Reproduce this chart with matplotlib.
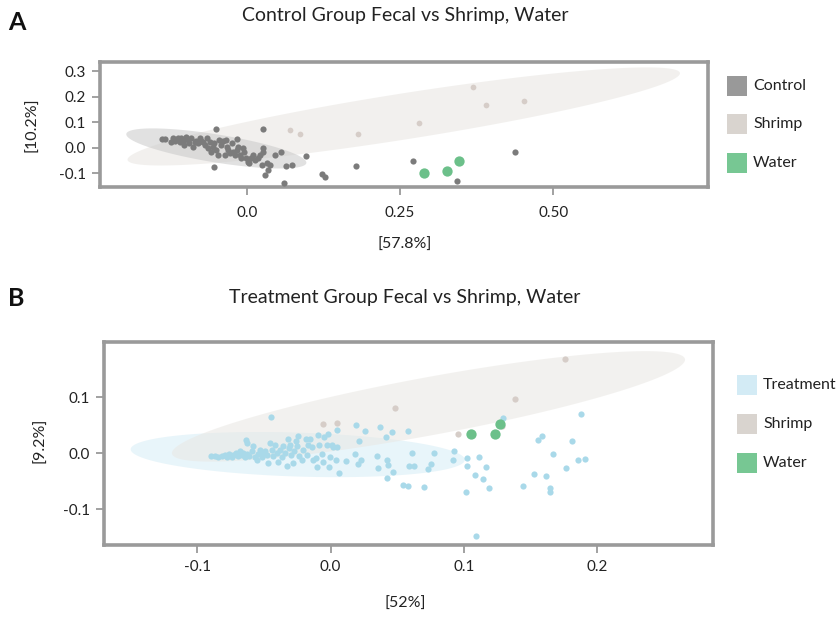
import numpy as np
import matplotlib
matplotlib.use("Agg")
import matplotlib.pyplot as plt
from matplotlib.patches import Polygon, Rectangle

plt.rcParams['font.family'] = ['Lato', 'DejaVu Sans']

# ---------------- Panel A data ----------------
control_x = [-0.138, -0.133, -0.124, -0.120, -0.117, -0.113, -0.110, -0.107, -0.105, -0.102,
             -0.099, -0.096, -0.094, -0.091, -0.088, -0.085, -0.083, -0.080, -0.077, -0.075,
             -0.072, -0.069, -0.066, -0.064, -0.061, -0.058, -0.056, -0.053, -0.051, -0.050,
             -0.047, -0.045, -0.042, -0.039, -0.036, -0.034, -0.033, -0.031, -0.028, -0.025,
             -0.023, -0.020, -0.017, -0.016, -0.015, -0.012, -0.009, -0.007, -0.004, -0.001,
             0.002, 0.004, 0.007, 0.010, 0.013, 0.018, 0.021, 0.024, 0.026, 0.026,
             0.027, 0.029, 0.032, 0.034, 0.037, 0.045, 0.056, 0.060, 0.064, 0.073,
             0.096, -0.053, 0.123, 0.128, 0.178, 0.271, 0.437, 0.343]
control_y = [0.034, 0.035, 0.022, 0.040, 0.027, 0.038, 0.022, 0.040, 0.027, 0.012,
             0.044, 0.031, 0.018, 0.038, 0.005, 0.022, 0.027, 0.018, 0.038, 0.027,
             0.022, 0.012, 0.038, -0.001, 0.022, -0.015, 0.005, 0.018, 0.075, -0.008,
             -0.027, 0.031, 0.012, 0.027, -0.027, 0.031, 0.005, -0.008, -0.021, 0.018,
             -0.015, -0.027, 0.035, -0.008, 0.005, -0.027, -0.040, -0.001, -0.015, -0.040,
             -0.054, -0.060, -0.040, -0.027, -0.047, -0.040, -0.027, -0.067, 0.075, -0.001,
             -0.015, -0.106, -0.060, -0.086, -0.067, -0.027, -0.017, -0.137, -0.069, -0.067,
             -0.030, -0.073, -0.103, -0.113, -0.072, -0.050, -0.017, -0.129]
shrimpA_x = [0.070, 0.087, 0.181, 0.369, 0.390, 0.452, 0.281]
shrimpA_y = [0.069, 0.056, 0.054, 0.238, 0.169, 0.184, 0.099]
waterA_x = [0.289, 0.327, 0.346]
waterA_y = [-0.099, -0.090, -0.050]
xticksA = [0.0, 0.25, 0.50]
xticklabelsA = ['0.0', '0.25', '0.50']
yticksA = [-0.1, 0.0, 0.1, 0.2, 0.3]
yticklabelsA = ['-0.1', '0.0', '0.1', '0.2', '0.3']

# ---------------- Panel B data ----------------
treat_x = [-0.090, -0.0868, -0.0843, -0.0818, -0.0793, -0.0780, -0.0761, -0.0743, -0.0731, -0.0710,
           -0.0693, -0.0680, -0.0668, -0.0656, -0.0643, -0.0630, -0.0611, -0.0593, -0.0581, -0.0568,
           -0.0555, -0.0543, -0.0530, -0.0518, -0.0506, -0.0493, -0.0480, -0.0468, -0.0455, -0.0443,
           -0.0431, -0.0418, -0.0405, -0.0393, -0.0380, -0.0368, -0.0356, -0.0343, -0.0330, -0.0323,
           -0.0311, -0.0305, -0.0298, -0.0285, -0.0275, -0.0260, -0.0255, -0.0243, -0.0236, -0.0218,
           -0.0206, -0.0185, -0.0180, -0.0168, -0.0155, -0.0143, -0.0131, -0.0110, -0.0105, -0.0098,
           -0.0088, -0.0068, -0.0055, -0.0048, -0.0030, -0.0018, -0.0013, -0.0005, 0.0008, 0.0020,
           0.0040, 0.0050, 0.0045, 0.0065, 0.0115, 0.0182, 0.0188, 0.0207, 0.0215, 0.0225,
           0.0260, 0.0350, 0.0355, 0.0370, 0.0415, 0.0420, 0.0428, 0.0420, 0.0462, 0.0465,
           0.0540, 0.0582, 0.0585, 0.0608, 0.0625, 0.0582, -0.0638, -0.0630, -0.0446,
           0.0775, 0.0750, 0.0732, 0.0700, 0.0927, 0.0915, 0.1020, 0.1115, 0.1020, 0.1165,
           0.1083, 0.1145, 0.1188, 0.1013, 0.1290, 0.1557, 0.1587, 0.1665, 0.1808, 0.1880,
           0.1857, 0.1910, 0.1765, 0.1527, 0.1615, 0.1440, 0.1645, 0.1645, 0.1092]
treat_y = [-0.005, -0.005, -0.006, -0.005, -0.003, -0.007, -0.001, -0.006, -0.003, 0.000,
           -0.005, 0.003, -0.003, 0.000, -0.006, -0.001, -0.005, 0.003, 0.012, -0.006,
           -0.012, -0.001, 0.006, -0.006, -0.001, 0.003, -0.003, -0.018, 0.018, 0.006,
           -0.005, 0.015, 0.000, -0.015, 0.006, -0.006, 0.012, 0.000, -0.023, 0.026,
           0.009, 0.015, -0.003, -0.018, 0.003, 0.021, 0.012, 0.030, -0.005, -0.012,
           0.006, 0.025, -0.003, 0.015, 0.025, 0.011, -0.012, -0.009, -0.024, 0.033,
           0.015, -0.001, -0.015, 0.029, 0.015, 0.034, -0.024, -0.006, 0.015, 0.011,
           -0.012, 0.042, 0.011, -0.036, -0.014, -0.001, 0.051, -0.019, 0.022, -0.012,
           0.039, -0.005, -0.027, 0.046, 0.029, -0.012, -0.021, -0.045, 0.037, -0.033,
           -0.057, 0.040, -0.023, 0.000, -0.023, -0.058, 0.024, 0.018, 0.064,
           0.000, -0.019, -0.028, -0.061, 0.004, -0.012, -0.009, -0.006, -0.023, -0.025,
           -0.039, -0.046, -0.062, -0.069, 0.062, 0.024, 0.031, -0.001, 0.021, 0.070,
           -0.013, -0.010, -0.027, -0.038, -0.040, -0.059, -0.062, -0.070, -0.148]
shrimpB_x = [0.0480, 0.0050, -0.0055, 0.0958, 0.1283, 0.1381, 0.1755]
shrimpB_y = [0.080, 0.054, 0.052, 0.034, 0.049, 0.097, 0.168]
waterB_x = [0.1052, 0.1233, 0.1271]
waterB_y = [0.034, 0.034, 0.052]
xticksB = [-0.1, 0.0, 0.1, 0.2]
xticklabelsB = ['-0.1', '0.0', '0.1', '0.2']
yticksB = [-0.1, 0.0, 0.1]
yticklabelsB = ['-0.1', '0.0', '0.1']

C_CONTROL = '#7b7b7b'
C_SHRIMP = '#d6cdc8'
C_WATER = '#6cc08a'
C_TREAT = '#a9d9e9'
FRAME = '#9a9a9a'
TXT = '#222222'

fig = plt.figure(figsize=(8.4, 6.17), dpi=100)
axA = fig.add_axes([0.119, 0.697, 0.724, 0.2025])
axB = fig.add_axes([0.1238, 0.1167, 0.7247, 0.3295])


def style(ax, xlim, ylim, xt, xtl, yt, ytl, xpad):
    ax.set_xlim(*xlim)
    ax.set_ylim(*ylim)
    ax.set_xticks(xt)
    ax.set_xticklabels(xtl)
    ax.set_yticks(yt)
    ax.set_yticklabels(ytl)
    for s in ax.spines.values():
        s.set_color(FRAME)
        s.set_linewidth(2.6)
    ax.tick_params(direction='out', length=6, width=1.3, color=FRAME,
                   labelsize=11, labelcolor=TXT, pad=4)
    ax.tick_params(axis='x', pad=xpad)


def ellipse(ax, tip1, tip2, halfw, color, alpha, z):
    T = ax.transData
    p1 = T.transform(tip1)
    p2 = T.transform(tip2)
    c = (p1 + p2) / 2
    u = (p2 - p1) / 2
    n = np.array([-u[1], u[0]]) / np.hypot(*u) * halfw * fig.dpi / 100
    t = np.linspace(0, 2 * np.pi, 200)
    pts = c + np.outer(np.cos(t), u) + np.outer(np.sin(t), n)
    data = T.inverted().transform(pts)
    ax.add_patch(Polygon(data, closed=True, facecolor=color, edgecolor='none',
                         alpha=alpha, zorder=z))


style(axA, (-0.240, 0.753), (-0.153, 0.337), xticksA, xticklabelsA, yticksA, yticklabelsA, 8)
style(axB, (-0.170, 0.2866), (-0.164, 0.199), xticksB, xticklabelsB, yticksB, yticklabelsB, 5)

# Panel A
ellipse(axA, (-0.195, -0.047), (0.707, 0.294), 23, '#eeece9', 0.75, 1)
ellipse(axA, (-0.197, 0.055), (0.097, -0.059), 14, '#c9c9c9', 0.55, 2)
axA.scatter(shrimpA_x, shrimpA_y, s=17, color=C_SHRIMP, linewidths=0, zorder=3)
axA.scatter(control_x, control_y, s=20, color=C_CONTROL, linewidths=0, zorder=4)
axA.scatter(waterA_x, waterA_y, s=55, color=C_WATER, linewidths=0, zorder=5)

# Panel B
ellipse(axB, (-0.150, 0.007), (0.1007, -0.012), 22, '#e3f3f9', 0.8, 1)
ellipse(axB, (-0.119, -0.001), (0.2658, 0.168), 29, '#e9e7e3', 0.55, 2)
axB.scatter(shrimpB_x, shrimpB_y, s=20, color=C_SHRIMP, linewidths=0, zorder=3)
axB.scatter(treat_x, treat_y, s=20, color=C_TREAT, linewidths=0, zorder=4)
axB.scatter(waterB_x, waterB_y, s=55, color=C_WATER, linewidths=0, zorder=5)

# Titles and labels
fig.text(405 / 840, 1 - 16 / 617, 'Control Group Fecal vs Shrimp, Water', ha='center', va='center',
         fontsize=14, color=TXT)
fig.text(405 / 840, 1 - 298 / 617, 'Treatment Group Fecal vs Shrimp, Water', ha='center', va='center',
         fontsize=14, color=TXT)
fig.text(8 / 840, 1 - 23 / 617, 'A', ha='left', va='center', fontsize=18, fontweight='bold', color='#111111')
fig.text(8 / 840, 1 - 299 / 617, 'B', ha='left', va='center', fontsize=18, fontweight='bold', color='#111111')
fig.text(405 / 840, 1 - 245 / 617, '[57.8%]', ha='center', va='center', fontsize=11.5, color=TXT)
fig.text(405 / 840, 1 - 604 / 617, '[52%]', ha='center', va='center', fontsize=11.5, color=TXT)
fig.text(32 / 840, 1 - 125 / 617, '[10.2%]', ha='center', va='center', rotation=90, fontsize=11.5, color=TXT)
fig.text(40 / 840, 1 - 440 / 617, '[9.2%]', ha='center', va='center', rotation=90, fontsize=11.5, color=TXT)

# Legends
legA = [('Control', '#999999', 86), ('Shrimp', '#d9d4cf', 124), ('Water', '#77c793', 163)]
legB = [('Treatment', '#d3ebf5', 385), ('Shrimp', '#d9d4cf', 424), ('Water', '#77c793', 463)]
for items, x0 in ((legA, 727), (legB, 737)):
    for label, col, yc in items:
        fig.add_artist(Rectangle((x0 / 840, 1 - (yc + 10) / 617), 20 / 840, 20 / 617,
                                 facecolor=col, edgecolor='none', transform=fig.transFigure))
        fig.text((x0 + 26) / 840, 1 - yc / 617, label, ha='left', va='center', fontsize=11.5, color=TXT)

fig.savefig('out.png', dpi=100)
